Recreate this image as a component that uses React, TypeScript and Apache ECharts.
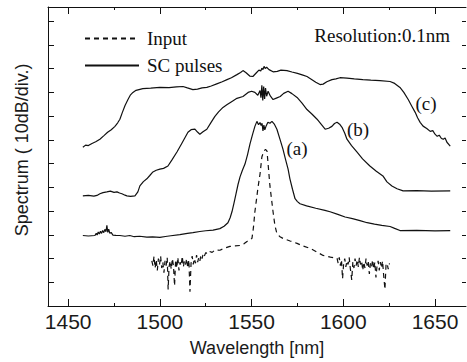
import React, { useEffect, useRef } from "react";
import * as echarts from "echarts";

// Wavelength [nm], relative level [dB] (10 dB per division)
const majorTicks = [1450, 1500, 1550, 1600, 1650];
const minorTicks = [1475, 1525, 1575, 1625];
const yTicks = [10, 20, 30, 40, 50, 60, 70, 80, 90, 100, 110, 120];

const curveC: [number, number][] = [
  [1458.0, 66.9], [1459.5, 67.8], [1461, 67.6], [1463, 68.5], [1465, 69.2], [1467.3, 70.3], [1469.5, 71.8],
  [1471.5, 73.2], [1473.5, 74.3], [1475.5, 75.7], [1477, 77.2], [1478.2, 78.7], [1479.5, 81.5], [1481, 84.5],
  [1482.6, 87.0], [1484, 89.0], [1485.3, 90.0], [1487, 90.9], [1490.7, 91.6], [1495, 91.8], [1500, 92.1],
  [1505, 92.0], [1509, 92.3], [1512.6, 92.5], [1515, 91.9], [1518, 91.2], [1520.5, 91.4], [1523, 91.9],
  [1525.6, 92.1], [1528, 92.7], [1531, 93.6], [1534, 94.5], [1536.6, 95.4], [1539, 96.2], [1542, 97.5],
  [1544, 98.4], [1545.3, 99.2], [1547, 98.3], [1549, 96.9], [1550.7, 96.7], [1552.5, 98.2], [1554, 99.4],
  [1555, 99.0], [1555.6, 100.2], [1556.2, 99.6], [1556.8, 101.0], [1557.4, 100.1], [1558.2, 100.6],
  [1559.5, 99.6], [1561.7, 98.7], [1564, 98.9], [1566, 99.4], [1569.3, 99.2], [1572, 98.6], [1575, 98.0],
  [1578, 97.3], [1580.2, 96.7], [1582.5, 95.6], [1585, 94.3], [1587.3, 93.3], [1589, 93.5], [1591, 94.5],
  [1593.8, 95.4], [1596, 95.7], [1598.2, 96.2], [1602, 96.0], [1606, 95.7], [1610.7, 95.4], [1615, 95.2],
  [1620, 95.0], [1625.5, 94.6], [1628, 93.8], [1630.9, 92.1], [1633, 90.0], [1635.4, 87.0], [1637.5, 84.0],
  [1639.2, 81.6], [1640.5, 79.3], [1641.9, 77.4], [1643.5, 75.8], [1645.5, 74.8], [1647.4, 73.6],
  [1648.8, 73.9], [1650, 72.4], [1651.2, 71.5], [1652.3, 72.0], [1653.5, 70.6], [1654.5, 70.3],
  [1655.5, 70.8], [1656.5, 69.0], [1658.3, 67.4],
];

const curveB: [number, number][] = [
  [1458.0, 46.4], [1461, 46.6], [1464, 46.3], [1465.7, 46.6], [1467.3, 47.3], [1469, 47.8], [1471.1, 48.1],
  [1473, 48.4], [1475, 47.9], [1476.6, 48.1], [1478, 47.6], [1479.3, 47.3], [1481, 46.7], [1482, 46.4],
  [1484, 46.2], [1486.4, 46.4], [1488, 48.1], [1489.1, 50.6], [1491, 52.4], [1492.9, 53.6], [1494.5, 55.0],
  [1496.2, 56.5], [1498, 57.2], [1500, 57.7], [1502, 58.0], [1504.4, 59.0], [1506.5, 61.5], [1509.3, 64.9],
  [1512, 68.6], [1515.3, 73.2], [1517, 74.3], [1519.1, 74.5], [1520.5, 73.3], [1521.8, 72.4], [1523.5, 73.4],
  [1525.6, 74.5], [1528, 77.5], [1530, 79.9], [1532, 81.8], [1534.4, 83.7], [1536.5, 84.8], [1539.3, 86.2],
  [1542, 87.5], [1545.3, 88.3], [1548.1, 90.0], [1550, 90.5], [1551.8, 90.0], [1553.4, 88.8], [1554.6, 90.8],
  [1555.1, 87.8], [1555.6, 93.0], [1556.1, 86.6], [1556.6, 92.5], [1557.1, 87.2], [1557.6, 91.8],
  [1558.2, 88.4], [1559, 90.5], [1560.2, 88.5], [1561.7, 87.0], [1563.5, 87.6], [1565.6, 88.3],
  [1567.5, 89.6], [1569.9, 90.5], [1572, 89.5], [1574.8, 87.9], [1577.5, 85.5], [1580.2, 82.8], [1583, 80.8],
  [1585.7, 78.7], [1588, 76.5], [1590.1, 74.5], [1592, 74.9], [1593.8, 75.7], [1595.2, 76.9], [1596.6, 77.4],
  [1598, 76.6], [1599.3, 75.3], [1600.8, 72.8], [1602, 70.3], [1604.5, 67.6], [1607.4, 64.9], [1610.5, 62.0],
  [1614.5, 59.0], [1618, 56.8], [1621.6, 54.8], [1623.8, 52.3], [1626.5, 50.6], [1629.3, 49.4],
  [1632.6, 48.5], [1640, 48.6], [1648, 48.4], [1658.3, 48.5],
];

const curveA: [number, number][] = [
  [1458.0, 29.7], [1461, 29.5], [1464.6, 29.7], [1465.3, 30.6], [1465.8, 29.9], [1466.4, 31.2], [1467, 30.3],
  [1467.6, 31.5], [1468.2, 30.6], [1468.8, 31.8], [1469.4, 30.9], [1470, 32.3], [1470.6, 31.3], [1471.1, 34.0],
  [1471.6, 31.0], [1472.1, 32.4], [1472.7, 30.6], [1473.4, 31.0], [1474.4, 29.9], [1476, 29.8], [1478.2, 29.7],
  [1481, 29.4], [1483.6, 29.7], [1486, 29.2], [1489, 29.4], [1492.9, 29.0], [1496, 29.1], [1500, 28.9],
  [1503, 29.3], [1506, 29.6], [1510.9, 30.1], [1515, 30.6], [1518, 30.9], [1521.8, 31.4], [1525, 31.7],
  [1529, 32.0], [1532.7, 32.6], [1535, 33.6], [1537.1, 35.1], [1538.3, 37.2], [1539.3, 39.7], [1540.4, 43.4],
  [1541.5, 47.3], [1542.6, 51.2], [1543.7, 54.4], [1545, 57.2], [1546.4, 59.8], [1547.8, 63.8], [1549.1, 68.2],
  [1550.5, 72.2], [1551.8, 75.7], [1552.9, 77.8], [1553.8, 76.4], [1554.6, 77.3], [1555.2, 76.0],
  [1555.7, 77.0], [1556.2, 73.8], [1556.7, 76.2], [1557.2, 74.2], [1557.8, 75.6], [1558.9, 77.4],
  [1560, 77.0], [1561.1, 77.8], [1562.5, 76.5], [1563.8, 74.5], [1565.5, 70.2], [1567.1, 66.1],
  [1568.5, 61.8], [1569.9, 57.7], [1570.9, 53.6], [1572.3, 49.2], [1573.7, 45.2], [1575, 44.0],
  [1576.4, 43.1], [1580, 42.2], [1585, 41.2], [1590, 40.3], [1592.8, 39.7], [1597, 38.6], [1601, 37.5],
  [1605, 36.8], [1609.1, 36.0], [1613, 35.1], [1617, 34.5], [1621, 34.0], [1625.5, 33.5], [1628, 32.7],
  [1630.9, 31.8], [1640, 31.9], [1650, 31.7], [1658.3, 31.8],
];

const inputSpectrum: [number, number][] = [
  [1495.6, 19.0], [1496.2, 17.0], [1496.8, 21.0], [1497.4, 16.0], [1498.0, 19.5], [1498.6, 15.0],
  [1499.2, 20.0], [1499.8, 17.5], [1500.4, 21.0], [1501.0, 16.0], [1501.6, 18.5], [1502.2, 14.0],
  [1502.8, 19.0], [1503.4, 17.0], [1504.0, 20.5], [1504.5, 7.0], [1505.0, 16.5], [1505.6, 19.0],
  [1506.2, 15.5], [1506.8, 20.0], [1507.4, 17.0], [1508.0, 8.5], [1508.6, 19.5], [1509.2, 16.0],
  [1509.8, 20.5], [1510.4, 15.0], [1511.0, 18.5], [1511.6, 17.0], [1512.2, 21.0], [1512.8, 16.5],
  [1513.4, 19.0], [1514.0, 17.5], [1514.6, 20.0], [1515.2, 16.0], [1515.8, 19.5], [1516.4, 6.0],
  [1517.0, 18.0], [1517.6, 21.0], [1518.2, 17.5], [1518.8, 20.0], [1519.4, 18.0], [1520.0, 21.5],
  [1520.6, 18.5], [1521.2, 20.5], [1521.8, 19.0], [1522.4, 21.5], [1523.0, 20.0], [1523.6, 22.0],
  [1524.2, 21.0], [1525.0, 22.5], [1526.0, 22.0], [1527.0, 23.0], [1528.5, 22.6], [1530, 23.6],
  [1532.7, 23.5], [1535, 24.3], [1538.2, 25.1], [1541, 25.3], [1543.7, 25.5], [1546, 26.3], [1547.5, 27.2],
  [1549, 27.8], [1550.2, 28.5], [1551.0, 33.0], [1551.8, 39.7], [1552.6, 44.5], [1553.4, 49.4],
  [1554.6, 55.6], [1555.6, 62.8], [1556.7, 65.3], [1557.6, 66.0], [1558.4, 65.3], [1559.2, 58.0],
  [1560.0, 50.6], [1561.7, 39.7], [1562.7, 34.0], [1563.8, 30.5], [1565.5, 29.2], [1567.1, 28.5],
  [1571, 27.4], [1574.8, 26.4], [1578, 25.3], [1581.9, 24.3], [1585.5, 22.8], [1589.0, 21.3], [1593, 20.6],
  [1596.6, 20.1], [1597.2, 18.0], [1597.8, 20.5], [1598.4, 17.0], [1599.0, 19.5], [1599.6, 11.5],
  [1600.2, 18.0], [1600.8, 20.0], [1601.4, 16.5], [1602.0, 19.0], [1602.6, 17.5], [1603.2, 20.5],
  [1603.8, 16.0], [1604.6, 11.0], [1605.2, 18.5], [1605.8, 16.0], [1606.4, 20.0], [1607.0, 17.0],
  [1607.6, 19.5], [1608.2, 16.5], [1608.8, 20.5], [1609.4, 17.5], [1610.0, 19.0], [1610.6, 15.0],
  [1611.2, 18.5], [1611.8, 16.0], [1612.4, 20.0], [1613.0, 17.0], [1613.6, 19.0], [1614.2, 13.5],
  [1614.8, 18.0], [1615.4, 16.5], [1616.0, 19.5], [1616.6, 15.5], [1617.2, 18.5], [1617.8, 12.0],
  [1618.4, 17.0], [1619.0, 19.0], [1619.6, 15.0], [1620.2, 18.5], [1620.8, 16.0], [1621.4, 19.0],
  [1622.0, 13.0], [1622.7, 7.0], [1623.3, 17.5], [1623.9, 18.0], [1624.5, 15.5], [1625.2, 18.0],
];

const X_MIN = 1439;
const X_MAX = 1666.9;
const Y_MIN = 0;
const Y_MAX = 126;

const INK = "#111";
const SANS = "'Liberation Sans', Arial, sans-serif";
const SERIF = "'Liberation Serif', 'Times New Roman', serif";

export default function App() {
  const ref = useRef<HTMLDivElement>(null);
  useEffect(() => {
    if (!ref.current) return;
    const chart = echarts.init(ref.current, undefined, { renderer: "svg" });
    const xBase = { type: "value", min: X_MIN, max: X_MAX, splitLine: { show: false } };
    const lineS = (name: string, data: [number, number][], dashed = false) => ({
      type: "line",
      name,
      data,
      symbol: "none",
      showSymbol: false,
      silent: true,
      lineStyle: { color: INK, width: 1.2, type: dashed ? [5, 4] : "solid" },
      itemStyle: { color: INK },
    });
    chart.setOption({
      animation: false,
      backgroundColor: "#fff",
      grid: { left: 48, right: 1, top: 7, bottom: 54, containLabel: false },
      legend: {
        data: ["Input", "SC pulses"],
        orient: "vertical",
        left: 79,
        top: 24,
        itemWidth: 54,
        itemHeight: 14,
        itemGap: 8,
        selectedMode: false,
        itemStyle: { opacity: 0 },
        textStyle: { fontFamily: SERIF, fontSize: 19, color: INK, padding: [0, 0, 0, 3] },
      },
      xAxis: [
        {
          ...xBase,
          position: "bottom",
          axisLine: { show: true, lineStyle: { color: INK, width: 1 } },
          axisTick: { show: true, inside: true, length: 7, customValues: majorTicks, lineStyle: { color: INK } },
          axisLabel: {
            show: true,
            customValues: majorTicks,
            margin: 5,
            fontFamily: SANS,
            fontSize: 21,
            color: "#1a1a1a",
            formatter: (v: number) => String(v),
          },
          name: "Wavelength [nm]",
          nameLocation: "middle",
          nameGap: 33,
          nameTextStyle: { fontFamily: SANS, fontSize: 18, color: "#1a1a1a" },
        },
        {
          ...xBase,
          position: "bottom",
          axisLine: { show: false },
          axisTick: { show: true, inside: true, length: 3, customValues: minorTicks, lineStyle: { color: INK } },
          axisLabel: { show: false },
        },
        {
          ...xBase,
          position: "top",
          axisLine: { show: true, lineStyle: { color: INK, width: 1 } },
          axisTick: { show: true, inside: true, length: 7, customValues: majorTicks, lineStyle: { color: INK } },
          axisLabel: { show: false },
        },
        {
          ...xBase,
          position: "top",
          axisLine: { show: false },
          axisTick: { show: true, inside: true, length: 3, customValues: minorTicks, lineStyle: { color: INK } },
          axisLabel: { show: false },
        },
      ],
      yAxis: [
        {
          type: "value",
          min: Y_MIN,
          max: Y_MAX,
          position: "left",
          splitLine: { show: false },
          axisLine: { show: true, lineStyle: { color: INK, width: 1 } },
          axisTick: { show: true, inside: true, length: 6, customValues: yTicks, lineStyle: { color: INK } },
          axisLabel: { show: false },
        },
        {
          type: "value",
          min: Y_MIN,
          max: Y_MAX,
          position: "right",
          splitLine: { show: false },
          axisLine: { show: false },
          axisTick: { show: true, inside: true, length: 4, customValues: yTicks, lineStyle: { color: INK } },
          axisLabel: { show: false },
        },
      ],
      graphic: [
        {
          type: "text",
          x: 22,
          y: 150,
          rotation: Math.PI / 2,
          style: { text: "Spectrum ( 10dB/div.)", font: `18px ${SANS}`, fill: "#1a1a1a", align: "center", verticalAlign: "middle" },
        },
        {
          type: "text",
          x: 450,
          y: 35,
          style: { text: "Resolution:0.1nm", font: `19px ${SERIF}`, fill: INK, align: "right", verticalAlign: "middle" },
        },
        { type: "text", x: 426, y: 103, style: { text: "(c)", font: `19px ${SERIF}`, fill: INK, align: "center", verticalAlign: "middle" } },
        { type: "text", x: 358, y: 129, style: { text: "(b)", font: `19px ${SERIF}`, fill: INK, align: "center", verticalAlign: "middle" } },
        { type: "text", x: 297, y: 148, style: { text: "(a)", font: `19px ${SERIF}`, fill: INK, align: "center", verticalAlign: "middle" } },
      ],
      series: [
        lineS("Input", inputSpectrum, true),
        lineS("SC pulses", curveA),
        lineS("SC pulses", curveB),
        lineS("SC pulses", curveC),
      ],
    });
    return () => chart.dispose();
  }, []);
  return <div ref={ref} style={{ position: "absolute", left: 0, top: 0, width: 467, height: 362 }} />;
}
